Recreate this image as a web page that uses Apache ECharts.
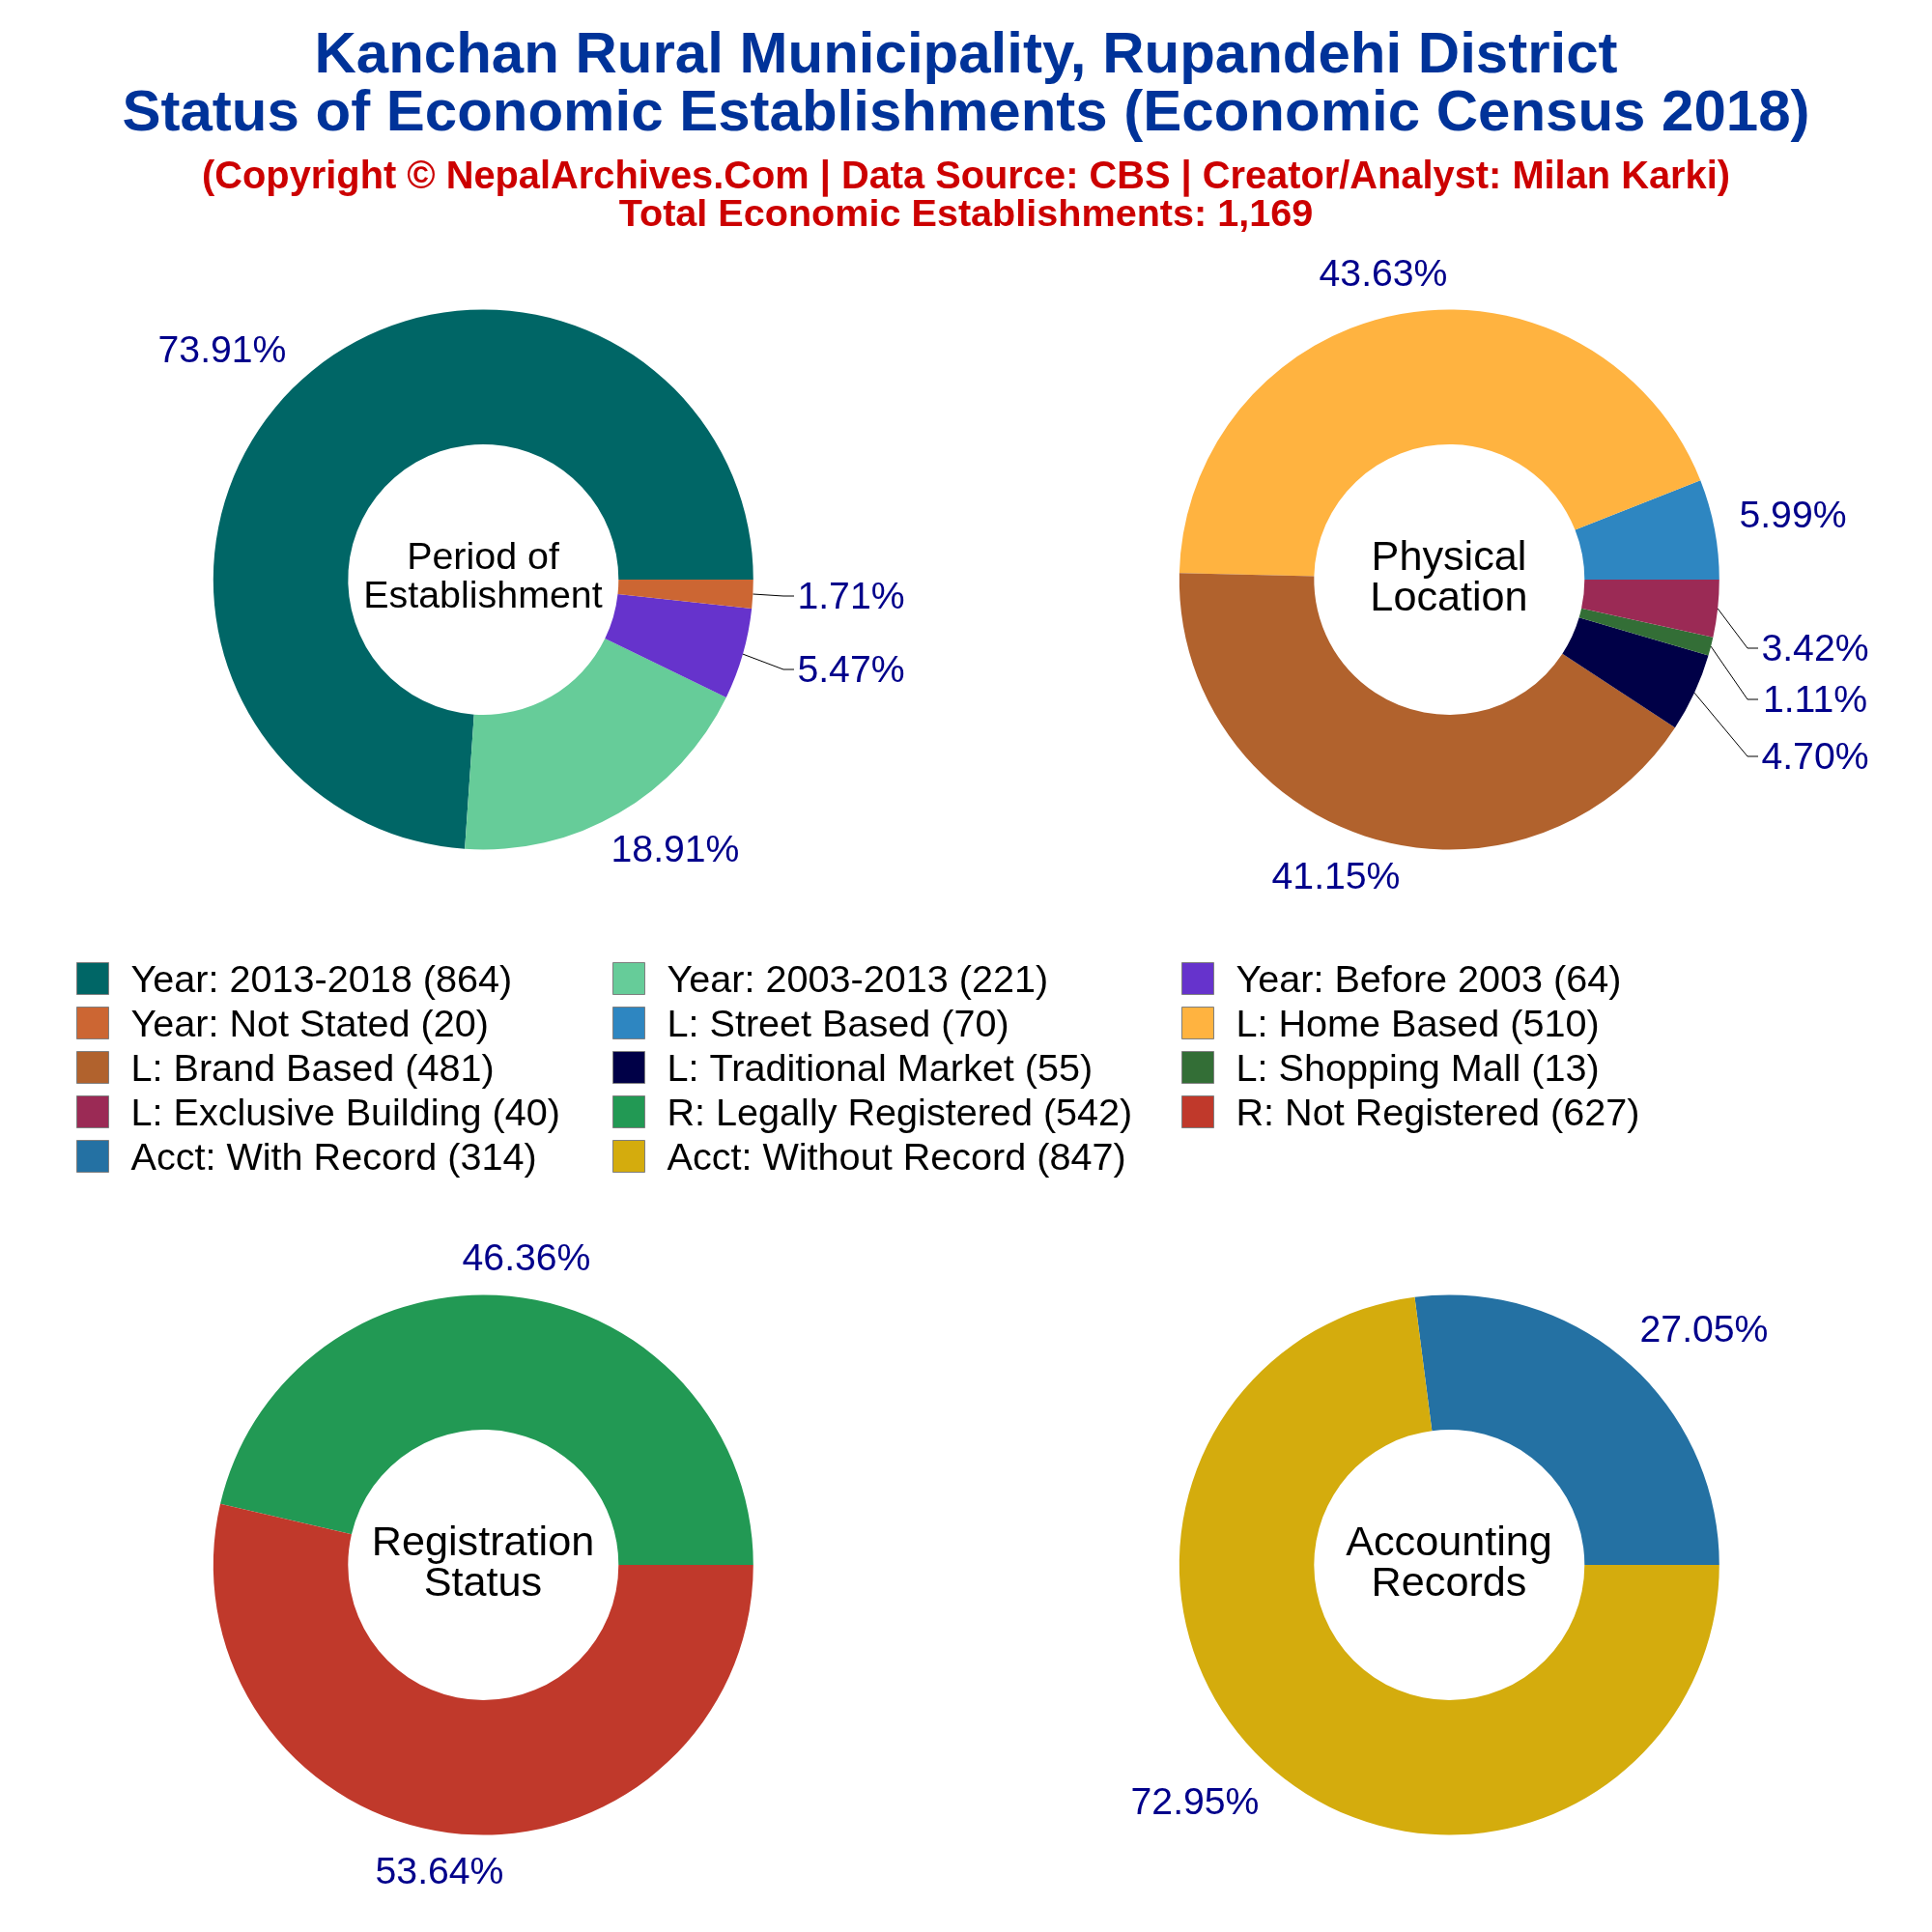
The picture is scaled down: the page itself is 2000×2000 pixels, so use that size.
<!DOCTYPE html>
<html>
<head>
<meta charset="utf-8">
<title>Kanchan Rural Municipality</title>
<script src="https://cdn.jsdelivr.net/npm/echarts@6/dist/echarts.min.js"></script>
<style>
  html, body { margin: 0; padding: 0; background: #fff; }
  #chart { width: 2000px; height: 2000px; }
</style>
</head>
<body>
<div id="chart"></div>
<script>
var FONT = '"Liberation Sans", Arial, sans-serif';

// counts
var periodNames = ['Year: 2013-2018', 'Year: 2003-2013', 'Year: Before 2003', 'Year: Not Stated'];
var periodValues = [864, 221, 64, 20];
var periodColors = ['#006666', '#66CC99', '#6633CC', '#CC6633'];

var locationNames = ['L: Street Based', 'L: Home Based', 'L: Brand Based', 'L: Traditional Market', 'L: Shopping Mall', 'L: Exclusive Building'];
var locationValues = [70, 510, 481, 55, 13, 40];
var locationColors = ['#2E86C1', '#FFB340', '#B1622D', '#000047', '#336E36', '#9B2A55'];

var registrationNames = ['R: Legally Registered', 'R: Not Registered'];
var registrationValues = [542, 627];
var registrationColors = ['#229954', '#C0392B'];

var accountingNames = ['Acct: With Record', 'Acct: Without Record'];
var accountingValues = [314, 847];
var accountingColors = ['#2471A3', '#D4AC0D'];

// where each percentage label sits, and which ones have a leader line
var periodSpots = [[230, 364], [699, 881], [881, 695], [881, 619]];
var periodLeaders = [false, false, true, true];
var locationSpots = [[1856, 535], [1432, 285], [1383, 909], [1879, 785], [1879, 726], [1879, 673]];
var locationLeaders = [false, false, false, true, true, true];
var registrationSpots = [[545, 1304], [455, 1939]];
var accountingSpots = [[1764, 1378], [1237, 1867]];

function legendName(names, values, i) {
  return names[i] + ' (' + values[i] + ')';
}

function pieSeries(names, values, colors, spots, leaders, center) {
  return {
    type: 'pie',
    center: center,
    radius: [140, 279.5],
    startAngle: 0,
    clockwise: false,
    avoidLabelOverlap: false,
    silent: true,
    percentPrecision: 2,
    data: values.map(function (v, i) {
      return {
        name: legendName(names, values, i),
        value: v,
        itemStyle: { color: colors[i] },
        labelLine: { show: !!(leaders && leaders[i]) }
      };
    }),
    label: {
      show: true,
      position: 'outside',
      color: '#00008B',
      fontFamily: FONT,
      fontSize: 39.2,
      formatter: function (p) { return p.percent.toFixed(2) + '%'; }
    },
    labelLine: {
      show: true,
      lineStyle: { color: '#000', width: 1 }
    },
    labelLayout: function (p) {
      var s = spots[p.dataIndex];
      var out = { x: s[0], y: s[1], align: 'center', verticalAlign: 'middle' };
      if (leaders && leaders[p.dataIndex] && p.labelLinePoints) {
        out.labelLinePoints = [p.labelLinePoints[0], [s[0] - 70, s[1] - 2], [s[0] - 59, s[1] - 2]];
      }
      return out;
    }
  };
}

function headline(text, y, size, color) {
  return {
    text: text, left: 1000, top: y, padding: 0,
    textAlign: 'center', textVerticalAlign: 'middle',
    textStyle: { fontFamily: FONT, fontWeight: 'bold', fontSize: size, color: color }
  };
}

function holeText(text, x, y, size, lineHeight) {
  return {
    text: text, left: x, top: y, padding: 0,
    textAlign: 'center', textVerticalAlign: 'middle',
    textStyle: { fontFamily: FONT, fontWeight: 'normal', fontSize: size, lineHeight: lineHeight, color: '#000' }
  };
}

function legendColumn(x, items) {
  return {
    orient: 'vertical', left: x, top: 990, padding: 0,
    itemWidth: 33, itemHeight: 33, itemGap: 0,
    icon: 'rect', selectedMode: false,
    itemStyle: { borderColor: '#7F7F7F', borderWidth: 1 },
    formatter: '{t|{name}}',
    textStyle: {
      rich: {
        t: { fontFamily: FONT, fontSize: 39.6, color: '#000', lineHeight: 39, padding: [6, 0, 0, 18] }
      }
    },
    data: items
  };
}

var chart = echarts.init(document.getElementById('chart'));
chart.setOption({
  animation: false,
  backgroundColor: '#fff',
  title: [
    headline('Kanchan Rural Municipality, Rupandehi District', 58.5, 60, '#003399'),
    headline('Status of Economic Establishments (Economic Census 2018)', 118.5, 60, '#003399'),
    headline('(Copyright \u00A9 NepalArchives.Com | Data Source: CBS | Creator/Analyst: Milan Karki)', 184.5, 39.8, '#CC0000'),
    headline('Total Economic Establishments: 1,169', 223.5, 39.6, '#CC0000'),
    holeText('Period of\nEstablishment', 500, 598.5, 39.4, 40),
    holeText('Physical\nLocation', 1500, 599.5, 43.2, 42),
    holeText('Registration\nStatus', 500, 1619.5, 43.2, 42),
    holeText('Accounting\nRecords', 1500, 1619.5, 43.2, 42)
  ],
  legend: [
    legendColumn(79, [
      legendName(periodNames, periodValues, 0),
      legendName(periodNames, periodValues, 3),
      legendName(locationNames, locationValues, 2),
      legendName(locationNames, locationValues, 5),
      legendName(accountingNames, accountingValues, 0)
    ]),
    legendColumn(634, [
      legendName(periodNames, periodValues, 1),
      legendName(locationNames, locationValues, 0),
      legendName(locationNames, locationValues, 3),
      legendName(registrationNames, registrationValues, 0),
      legendName(accountingNames, accountingValues, 1)
    ]),
    legendColumn(1223, [
      legendName(periodNames, periodValues, 2),
      legendName(locationNames, locationValues, 1),
      legendName(locationNames, locationValues, 4),
      legendName(registrationNames, registrationValues, 1)
    ])
  ],
  series: [
    pieSeries(periodNames, periodValues, periodColors, periodSpots, periodLeaders, [500.3, 600]),
    pieSeries(locationNames, locationValues, locationColors, locationSpots, locationLeaders, [1500.3, 600]),
    pieSeries(registrationNames, registrationValues, registrationColors, registrationSpots, null, [500.3, 1620]),
    pieSeries(accountingNames, accountingValues, accountingColors, accountingSpots, null, [1500.3, 1620])
  ]
});
</script>
</body>
</html>
